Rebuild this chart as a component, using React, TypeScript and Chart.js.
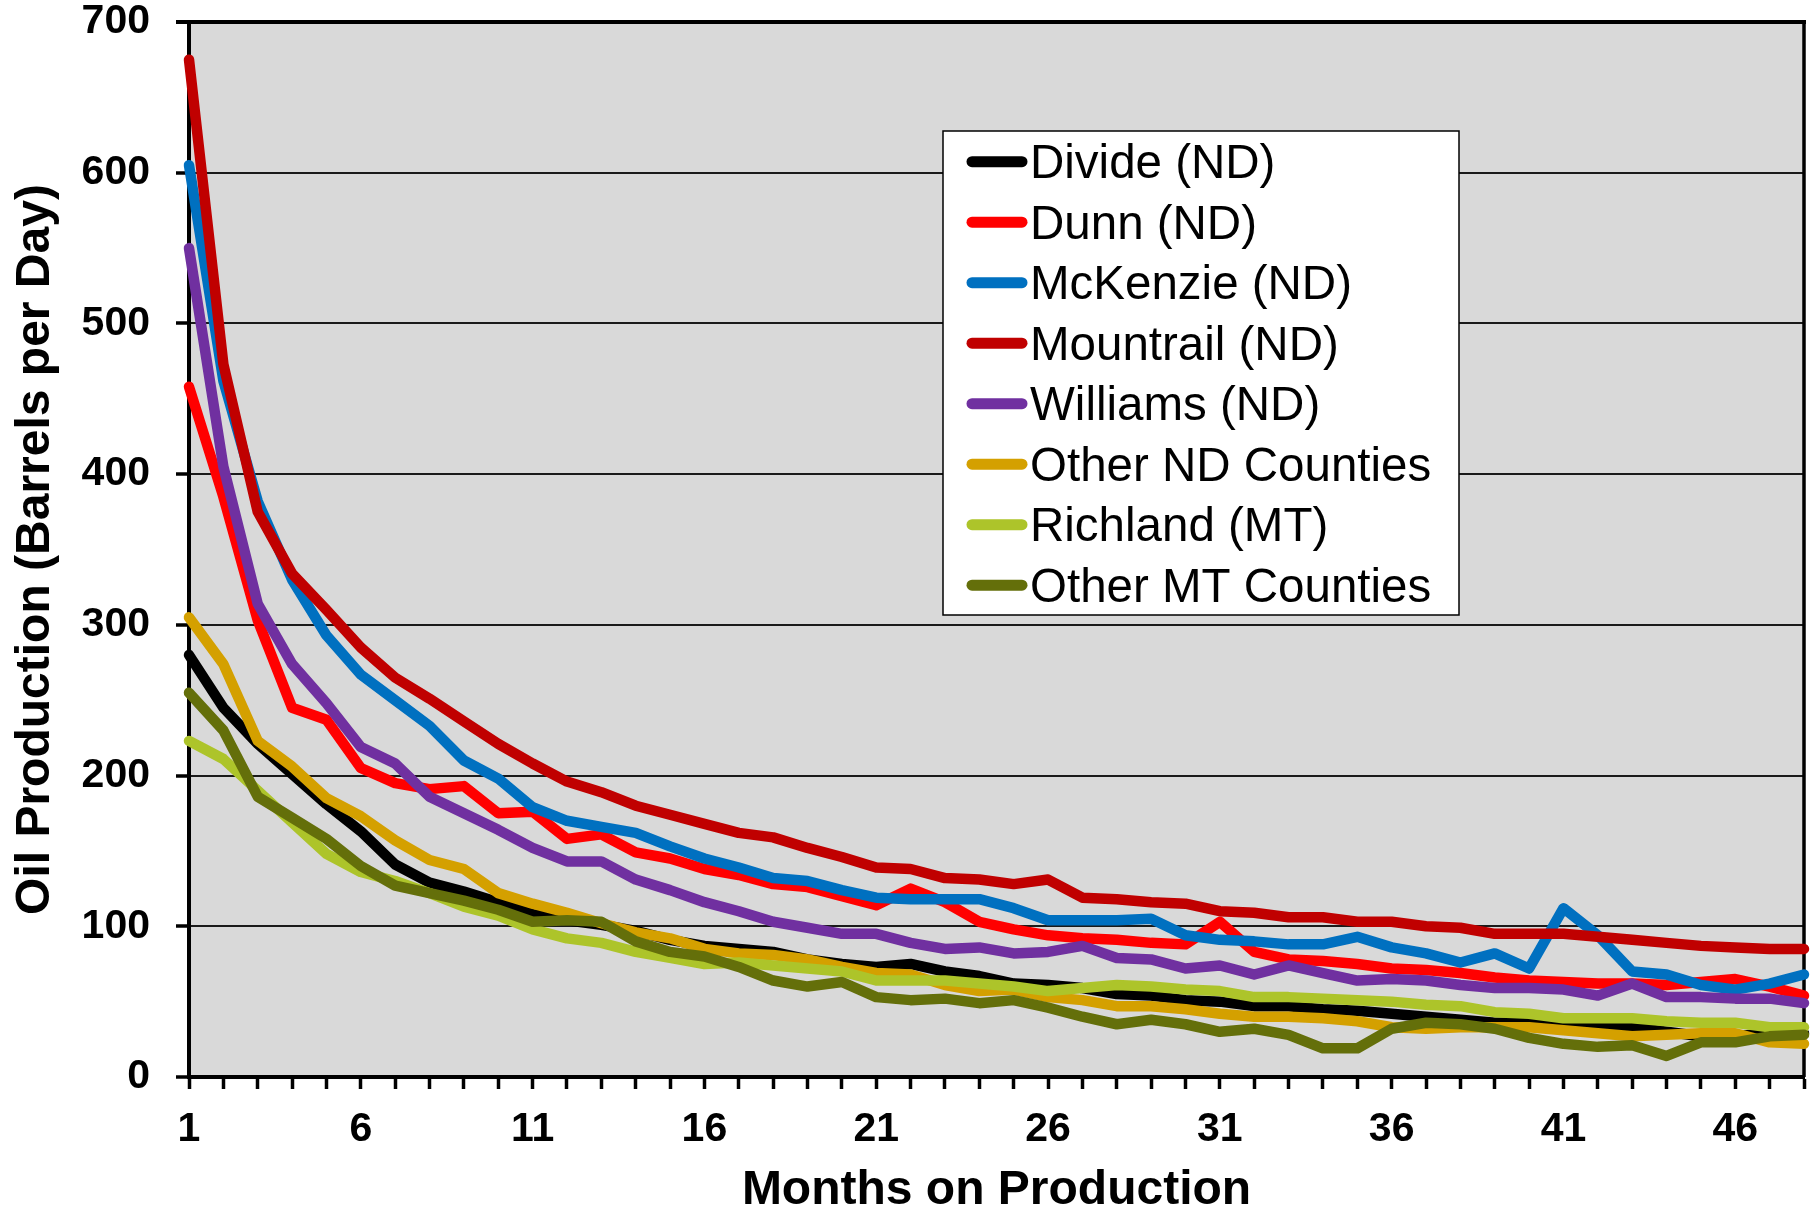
import { useEffect, useRef } from 'react';
import { Chart, registerables } from 'chart.js';

Chart.register(...registerables);

const months = ['1','2','3','4','5','6','7','8','9','10','11','12','13','14','15','16','17','18','19','20','21','22','23','24','25','26','27','28','29','30','31','32','33','34','35','36','37','38','39','40','41','42','43','44','45','46','47','48'];

const seriesNames = ['Divide (ND)', 'Dunn (ND)', 'McKenzie (ND)', 'Mountrail (ND)', 'Williams (ND)', 'Other ND Counties', 'Richland (MT)', 'Other MT Counties'];

const divide = [280,245,221,201,181,163,141,129,123,116,108,104,101,97,91,87,85,83,78,75,73,75,70,67,62,61,59,55,54,51,50,47,47,45,44,42,40,38,36,36,35,34,33,30,27,27,29,29];
const dunn = [458,385,303,245,237,205,195,191,193,175,176,158,161,149,145,138,134,128,126,120,114,125,116,103,98,94,92,91,89,88,103,83,78,77,75,72,71,69,66,64,63,62,62,61,63,65,60,54];
const mckenzie = [605,462,382,330,293,267,250,233,210,198,179,170,166,162,153,145,139,132,130,124,119,118,118,118,112,104,104,104,105,94,91,90,88,88,93,86,82,76,82,72,112,94,70,68,61,58,62,68];
const mountrail = [675,473,375,334,310,285,265,251,236,221,208,196,189,180,174,168,162,159,152,146,139,138,132,131,128,131,119,118,116,115,110,109,106,106,103,103,100,99,95,95,95,93,91,89,87,86,85,85];
const williams = [550,405,314,274,248,219,208,186,175,164,152,143,143,131,124,116,110,103,99,95,95,89,85,86,82,83,87,79,78,72,74,68,74,69,64,65,64,61,59,59,58,54,62,53,53,52,52,49];
const otherND = [305,274,223,206,185,173,157,144,138,122,115,109,102,96,92,85,82,81,78,73,69,68,61,57,58,53,51,47,47,45,42,40,40,39,37,33,32,33,33,33,31,29,27,28,29,29,23,22];
const richland = [223,211,190,169,148,136,130,122,113,107,98,92,89,83,79,75,76,74,72,70,64,64,64,62,60,57,59,61,60,58,57,53,53,52,51,50,48,47,43,42,39,39,39,37,36,36,33,33];
const otherMT = [255,230,186,172,158,140,127,122,117,111,103,104,103,90,83,80,73,64,60,63,53,51,52,49,51,46,40,35,38,35,30,32,28,19,19,32,36,35,32,26,22,20,21,14,23,23,27,28];

const seriesData = [divide, dunn, mckenzie, mountrail, williams, otherND, richland, otherMT];
const seriesColors = ['#000000', '#FF0000', '#0070C0', '#C00000', '#7030A0', '#D4A000', '#ADC42A', '#646F0A'];

const yTicks = [0, 100, 200, 300, 400, 500, 600, 700];

const FONT = '"Liberation Sans", Arial, Helvetica, sans-serif';

const framePlugin = {
  id: 'framePlugin',
  beforeDraw(chart: any) {
    const { ctx, chartArea } = chart;
    const { left, top, right, bottom } = chartArea;
    ctx.save();
    ctx.fillStyle = '#D9D9D9';
    ctx.fillRect(left, top, right - left, bottom - top);
    ctx.restore();
  },
  beforeDatasetsDraw(chart: any) {
    const { ctx, chartArea } = chart;
    const { left, top, right, bottom } = chartArea;
    ctx.save();
    ctx.strokeStyle = '#000';
    ctx.lineWidth = 4;
    ctx.beginPath();
    ctx.moveTo(left - 13, top);
    ctx.lineTo(right + 2, top);
    ctx.stroke();
    ctx.lineWidth = 3.5;
    ctx.beginPath();
    ctx.moveTo(right, top);
    ctx.lineTo(right, bottom);
    ctx.stroke();
    ctx.restore();
  },
  afterDraw(chart: any) {
    const { ctx, chartArea } = chart;
    const lx = chartArea.left + 754;
    const ly = chartArea.top + 109;
    const lw = 516;
    const lh = 484;
    ctx.save();
    ctx.fillStyle = '#FFFFFF';
    ctx.fillRect(lx, ly, lw, lh);
    ctx.strokeStyle = '#000';
    ctx.lineWidth = 1.5;
    ctx.strokeRect(lx, ly, lw, lh);
    ctx.font = `47.5px ${FONT}`;
    ctx.textAlign = 'left';
    ctx.textBaseline = 'alphabetic';
    seriesNames.forEach((name, i) => {
      const cy = ly + 30.7 + i * 60.5;
      ctx.strokeStyle = seriesColors[i];
      ctx.lineWidth = 11;
      ctx.lineCap = 'round';
      ctx.beginPath();
      ctx.moveTo(lx + 29, cy);
      ctx.lineTo(lx + 79, cy);
      ctx.stroke();
      ctx.fillStyle = '#000';
      ctx.fillText(name, lx + 87, cy + 16.5);
    });
    ctx.restore();
  },
};

export default function App() {
  const canvasRef = useRef<HTMLCanvasElement | null>(null);

  useEffect(() => {
    if (!canvasRef.current) return;
    const n = seriesData.length;
    const chart = new Chart(canvasRef.current, {
      type: 'line',
      data: {
        labels: months,
        datasets: seriesData.map((d, i) => ({
          label: seriesNames[i],
          data: d,
          borderColor: seriesColors[i],
          backgroundColor: seriesColors[i],
          borderWidth: 10.5,
          pointRadius: 0,
          pointHoverRadius: 0,
          tension: 0,
          fill: false,
          clip: false as any,
          order: n - i,
          borderJoinStyle: 'round' as const,
          borderCapStyle: 'round' as const,
        })),
      },
      options: {
        responsive: false,
        animation: false,
        devicePixelRatio: 1,
        layout: { padding: { top: 22, right: 14, left: 0, bottom: 0 } },
        plugins: {
          legend: { display: false },
          tooltip: { enabled: false },
        },
        scales: {
          x: {
            type: 'category',
            offset: false,
            afterFit: (scale: any) => {
              scale.height = 132;
              scale.paddingLeft = 0;
              scale.paddingRight = 0;
            },
            grid: {
              drawOnChartArea: false,
              drawTicks: true,
              tickLength: 12,
              tickWidth: 3.5,
              tickColor: '#000',
            },
            border: { display: true, color: '#000', width: 4 },
            ticks: {
              autoSkip: false,
              maxRotation: 0,
              minRotation: 0,
              padding: 16,
              color: '#000',
              font: { family: FONT, size: 41, weight: 'bold' },
              callback: (_v: any, idx: number) => (idx % 5 === 0 ? months[idx] : ''),
            },
            title: {
              display: true,
              text: 'Months on Production',
              color: '#000',
              font: { family: FONT, size: 48, weight: 'bold', lineHeight: 0.75 },
              padding: { top: 0, bottom: 0 },
            },
          },
          y: {
            min: yTicks[0],
            max: yTicks[yTicks.length - 1],
            afterFit: (scale: any) => {
              scale.width = 189;
              scale.paddingTop = 0;
              scale.paddingBottom = 0;
            },
            afterBuildTicks: (scale: any) => { scale.ticks = yTicks.map((v) => ({ value: v })); },
            grid: {
              color: (c: any) => (c.tick && c.tick.value === 700 ? '#000' : '#1a1a1a'),
              lineWidth: (c: any) => (c.tick && c.tick.value === 700 ? 4 : 2),
              drawTicks: true,
              tickLength: 13,
              tickWidth: 3.5,
              tickColor: '#000',
            },
            border: { display: true, color: '#000', width: 4 },
            ticks: {
              padding: 26,
              color: '#000',
              font: { family: FONT, size: 41, weight: 'bold', lineHeight: 1 },
              callback: (v: any) => String(v),
            },
            title: {
              display: true,
              text: 'Oil Production (Barrels per Day)',
              color: '#000',
              font: { family: FONT, size: 48, weight: 'bold', lineHeight: 1 },
              padding: { top: 12, bottom: 0 },
            },
          },
        },
      },
      plugins: [framePlugin],
    } as any);
    return () => chart.destroy();
  }, []);

  return (
    <div style={{ position: 'fixed', left: 0, top: 0, width: 1818, height: 1209, background: '#FFFFFF' }}>
      <canvas ref={canvasRef} width={1818} height={1209} style={{ width: 1818, height: 1209, display: 'block' }} />
    </div>
  );
}
